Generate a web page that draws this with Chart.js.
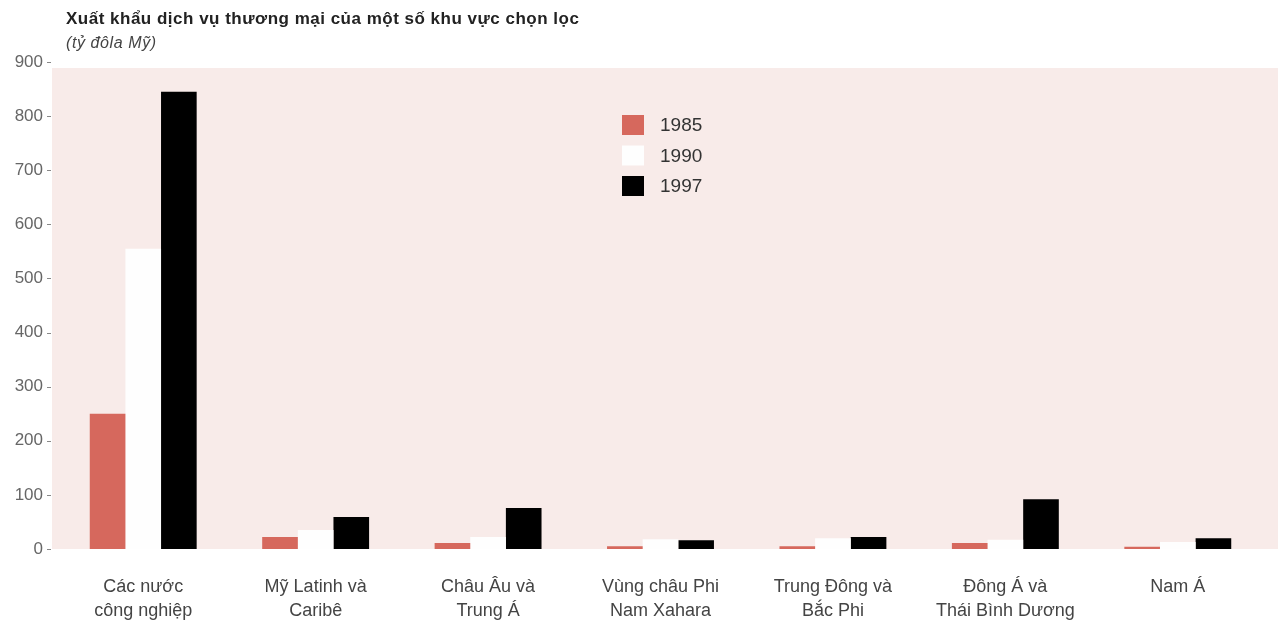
<!DOCTYPE html>
<html lang="vi">
<head>
    <meta charset="UTF-8">
    <title>Xuất khẩu dịch vụ thương mại</title>
    <script src="https://cdn.jsdelivr.net/npm/chart.js"></script>
    <style>
        body {
            margin: 0;
            padding: 0;
            background: #ffffff;
            font-family: "Liberation Sans", Arial, sans-serif;
        }
        .wrap {
            position: relative;
            width: 1278px;
            height: 622px;
        }
        .title {
            position: absolute;
            left: 66px;
            top: 9px;
            font-size: 17px;
            letter-spacing: 0.5px;
            font-weight: bold;
            color: #222;
        }
        .subtitle {
            position: absolute;
            left: 66px;
            top: 34px;
            font-size: 16px;
            letter-spacing: 0.6px;
            font-style: italic;
            color: #444;
        }
    </style>
</head>
<body>
    <div class="wrap">
        <canvas id="chart" width="1278" height="622"></canvas>
        <div class="title">Xuất khẩu dịch vụ thương mại của một số khu vực chọn lọc</div>
        <div class="subtitle">(tỷ đôla Mỹ)</div>
    </div>

    <script>
        // data
        const regions = [
            ["Các nước", "công nghiệp"],
            ["Mỹ Latinh và", "Caribê"],
            ["Châu Âu và", "Trung Á"],
            ["Vùng châu Phi", "Nam Xahara"],
            ["Trung Đông và", "Bắc Phi"],
            ["Đông Á và", "Thái Bình Dương"],
            ["Nam Á"]
        ];
        const years = ["1985", "1990", "1997"];
        const exports1985 = [250, 22, 11, 5, 5, 11, 4];
        const exports1990 = [555, 35, 22, 18, 20, 17, 13];
        const exports1997 = [845, 59, 76, 16, 22, 92, 20];
        const yTicks = [0, 100, 200, 300, 400, 500, 600, 700, 800, 900];

        const colors = ["#d6685d", "#fefefe", "#000000"];
        const fontFamily = '"Liberation Sans", Arial, sans-serif';

        // pink panel behind the bars
        const panelBg = {
            id: 'panelBg',
            beforeDraw(chart) {
                const ctx = chart.ctx;
                const area = chart.chartArea;
                ctx.save();
                ctx.fillStyle = '#f8ebe9';
                ctx.fillRect(area.left - 5, area.top + 6, chart.width - area.left + 5, area.bottom - area.top - 6);
                ctx.restore();
            }
        };

        // small dash next to each y label
        const yDashes = {
            id: 'yDashes',
            afterDraw(chart) {
                const ctx = chart.ctx;
                const y = chart.scales.y;
                ctx.save();
                ctx.strokeStyle = '#888';
                ctx.lineWidth = 1;
                y.ticks.forEach(t => {
                    const py = Math.round(y.getPixelForValue(t.value)) + 0.5;
                    ctx.beginPath();
                    ctx.moveTo(y.right - 10, py);
                    ctx.lineTo(y.right - 6, py);
                    ctx.stroke();
                });
                ctx.restore();
            }
        };

        // legend placed inside the panel
        const boxLegend = {
            id: 'boxLegend',
            afterDraw(chart) {
                const ctx = chart.ctx;
                ctx.save();
                ctx.font = '19px ' + fontFamily;
                ctx.textBaseline = 'middle';
                chart.data.datasets.forEach((ds, i) => {
                    const y = 115 + i * 30.5;
                    ctx.fillStyle = ds.backgroundColor;
                    ctx.fillRect(622, y, 22, 20);
                    ctx.fillStyle = '#333';
                    ctx.fillText(ds.label, 660, y + 11);
                });
                ctx.restore();
            }
        };

        const ctx = document.getElementById('chart').getContext('2d');
        new Chart(ctx, {
            type: 'bar',
            data: {
                labels: regions,
                datasets: [
                    { label: years[0], data: exports1985, backgroundColor: colors[0] },
                    { label: years[1], data: exports1990, backgroundColor: colors[1] },
                    { label: years[2], data: exports1997, backgroundColor: colors[2] }
                ]
            },
            options: {
                responsive: false,
                animation: false,
                layout: {
                    padding: { top: 62, left: 0, right: 14, bottom: 0 }
                },
                datasets: {
                    bar: { barPercentage: 1.0, categoryPercentage: 0.62 }
                },
                plugins: {
                    legend: { display: false },
                    tooltip: { enabled: false }
                },
                scales: {
                    x: {
                        afterFit(axis) { axis.height = 73; },
                        grid: { display: false, drawTicks: false },
                        border: { display: false },
                        ticks: {
                            padding: 27,
                            color: '#444',
                            maxRotation: 0,
                            autoSkip: false,
                            font: { family: fontFamily, size: 18, lineHeight: 1.28 }
                        }
                    },
                    y: {
                        min: 0,
                        max: 900,
                        afterBuildTicks(axis) {
                            axis.ticks = yTicks.map(v => ({ value: v }));
                        },
                        afterFit(axis) { axis.width = 57; },
                        grid: { display: false, drawTicks: false },
                        border: { display: false },
                        ticks: {
                            padding: 14,
                            color: '#666',
                            font: { family: fontFamily, size: 17 }
                        }
                    }
                }
            },
            plugins: [panelBg, yDashes, boxLegend]
        });
    </script>
</body>
</html>
